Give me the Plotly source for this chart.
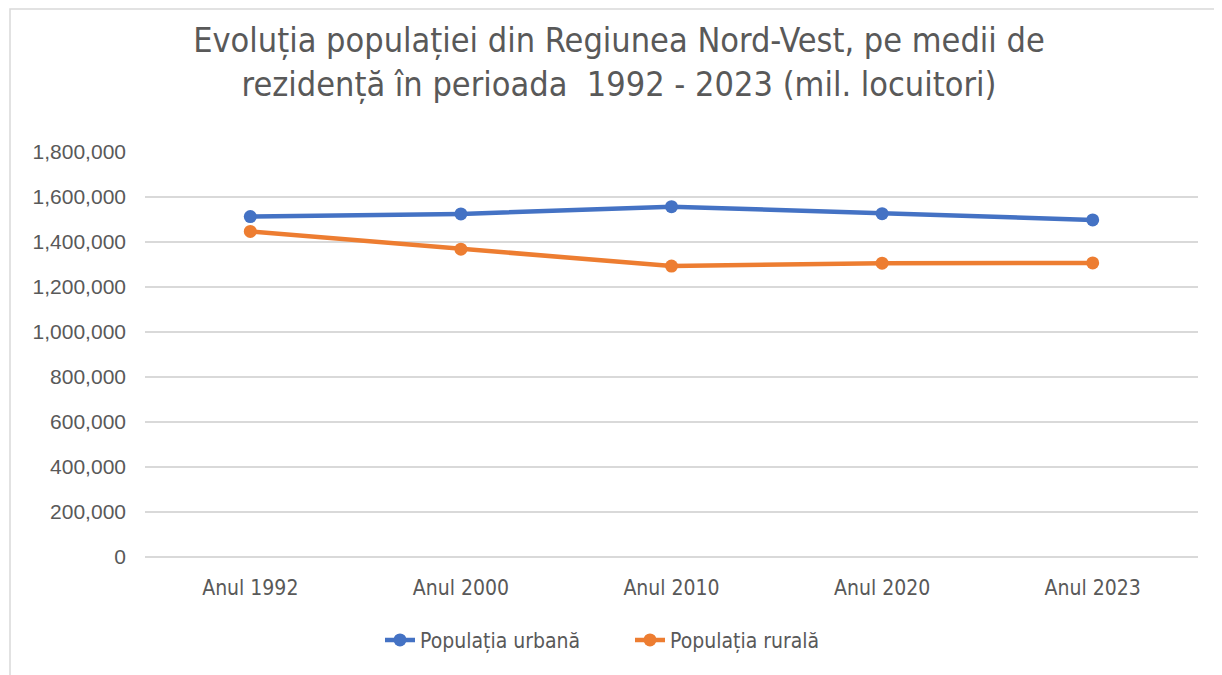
import plotly.graph_objects as go

categories = ["Anul 1992", "Anul 2000", "Anul 2010", "Anul 2020", "Anul 2023"]
urban = [1513000, 1525000, 1557000, 1526000, 1498000]
rural = [1447000, 1368000, 1293000, 1306000, 1307000]
series_names = ["Populația urbană", "Populația rurală"]
tick_vals = [0, 200000, 400000, 600000, 800000, 1000000, 1200000, 1400000, 1600000, 1800000]
tick_text = ["0", "200,000", "400,000", "600,000", "800,000", "1,000,000",
             "1,200,000", "1,400,000", "1,600,000", "1,800,000"]

narrow = "Liberation Sans Narrow, Arial Narrow, DejaVu Sans Condensed, sans-serif"

fig = go.Figure()
fig.add_trace(go.Scatter(x=categories, y=urban, name=series_names[0], mode="lines+markers",
                         line=dict(color="#4472C4", width=4.5),
                         marker=dict(size=13, color="#4472C4")))
fig.add_trace(go.Scatter(x=categories, y=rural, name=series_names[1], mode="lines+markers",
                         line=dict(color="#ED7D31", width=4.5),
                         marker=dict(size=13, color="#ED7D31")))

fig.update_layout(
    width=1222, height=675,
    paper_bgcolor="white", plot_bgcolor="white",
    margin=dict(l=137, r=32, t=144, b=126),
    title=dict(text="Evoluția populației din Regiunea Nord-Vest, pe medii de<br>rezidență în perioada  1992 - 2023 (mil. locuitori)",
               x=0.5, xanchor="center", y=0.935, yanchor="top", xref="container",
               font=dict(family=narrow, size=34, color="#595959")),
    xaxis=dict(type="category", range=[-0.5, 4.5], showgrid=False, showline=False,
               ticks="", ticklabelstandoff=16,
               tickfont=dict(family=narrow, size=21, color="#595959")),
    yaxis=dict(range=[0, 1800000], tickvals=tick_vals, ticktext=tick_text,
               showgrid=True, gridcolor="#D9D9D9", gridwidth=1.5, zeroline=True,
               zerolinecolor="#D9D9D9", zerolinewidth=1.5, ticks="", ticklen=0,
               ticklabelstandoff=18,
               tickfont=dict(family="Liberation Sans, Arial, sans-serif", size=21, color="#595959")),
    legend=dict(orientation="h", x=(380 - 145) / 1053, xanchor="left", y=-0.155, yanchor="top",
                font=dict(family=narrow, size=21, color="#595959"),
                entrywidth=205, entrywidthmode="pixels"),
    showlegend=True,
)
fig.update_yaxes(automargin=False)
fig.update_xaxes(automargin=False)
fig.add_shape(type="rect", xref="paper", yref="paper",
              x0=(10 - 145) / 1053, x1=(1250 - 145) / 1053,
              y0=-0.5, y1=(557 - 9) / 405,
              line=dict(color="#D9D9D9", width=1.5), fillcolor="rgba(0,0,0,0)", layer="below")

fig.write_html("out.html")
